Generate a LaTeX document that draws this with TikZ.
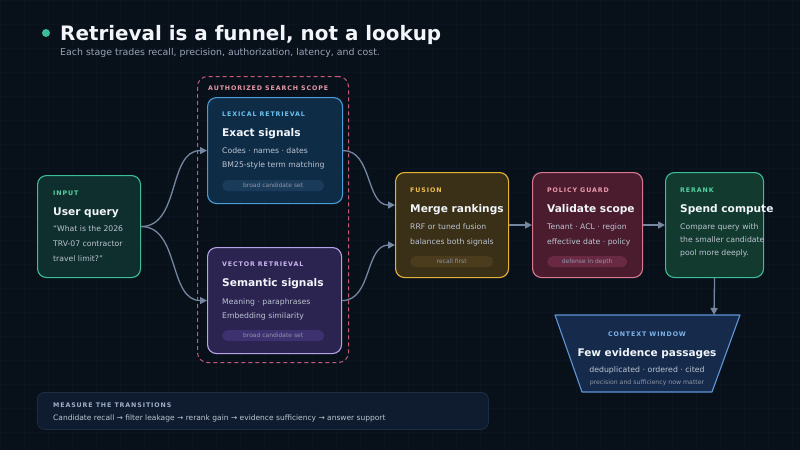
\documentclass[tikz,border=0pt]{standalone}
\usepackage{fontspec}
\setmainfont{DejaVu Sans}
\newfontfamily\lblfont{DejaVu Sans}[LetterSpace=14]
\usetikzlibrary{arrows.meta}
\definecolor{bg}{HTML}{08101A}
\definecolor{gridcol}{HTML}{0B141F}
\definecolor{txtwhite}{HTML}{F2F5FA}
\definecolor{txtbody}{HTML}{BCC5D2}
\definecolor{subcol}{HTML}{98A4B8}
\definecolor{pilltext}{HTML}{8E97A8}
\definecolor{conncol}{HTML}{7586A0}
\definecolor{tealfill}{HTML}{0F2F2E}
\definecolor{tealline}{HTML}{3DBE98}
\definecolor{teallbl}{HTML}{55D3A4}
\definecolor{lexfill}{HTML}{0F2C47}
\definecolor{lexline}{HTML}{4A9BD6}
\definecolor{lexlbl}{HTML}{6EC1F0}
\definecolor{lexpill}{HTML}{1B3B5A}
\definecolor{scopeline}{HTML}{C85A78}
\definecolor{scopelbl}{HTML}{E79AA8}
\definecolor{vecfill}{HTML}{2B2350}
\definecolor{vecline}{HTML}{B7A3E8}
\definecolor{veclbl}{HTML}{C9B8F0}
\definecolor{vecpill}{HTML}{3E3170}
\definecolor{fusfill}{HTML}{3A2F17}
\definecolor{fusline}{HTML}{E5B53A}
\definecolor{fuslbl}{HTML}{F0C050}
\definecolor{fuspill}{HTML}{4A3C1C}
\definecolor{polfill}{HTML}{4A1C2E}
\definecolor{polline}{HTML}{D9788F}
\definecolor{pollbl}{HTML}{F09AAE}
\definecolor{polpill}{HTML}{6A2942}
\definecolor{rrfill}{HTML}{133A2F}
\definecolor{ctxfill}{HTML}{162B4B}
\definecolor{ctxline}{HTML}{5E95D8}
\definecolor{ctxlbl}{HTML}{7EB4EA}
\definecolor{botfill}{HTML}{0F1C2F}
\definecolor{botline}{HTML}{1C2C42}
\definecolor{botlbl}{HTML}{A0B0C8}
\begin{document}
\begin{tikzpicture}[x=1pt,y=-1pt,
  card/.style={draw, rounded corners=9pt, line width=1.1pt, anchor=north west, inner sep=0pt},
  lbl/.style={anchor=base west, inner sep=0pt, font={\lblfont\bfseries\fontsize{6.3}{7}\selectfont}},
  head/.style={anchor=base west, inner sep=0pt, text=txtwhite, font={\bfseries\fontsize{10.6}{13}\selectfont}},
  body/.style={anchor=base west, inner sep=0pt, text=txtbody, font={\fontsize{7.7}{9}\selectfont}},
  pill/.style={rounded corners=5.5pt, anchor=north west, minimum height=11pt, inner sep=0pt, text=pilltext, font={\fontsize{6}{7}\selectfont}},
  conn/.style={draw=conncol, line width=1.3pt, -{Triangle[length=7pt,width=7pt]}}]
\useasboundingbox (0,0) rectangle (800,450);
\fill[bg] (0,0) rectangle (800,450);
\draw[gridcol, line width=0.6pt, step=24pt] (0,0) grid (800,450);

% title
\fill[tealline] (46,33) circle (4);
\node[anchor=base west, inner sep=0pt, text=txtwhite, font={\bfseries\fontsize{19.9}{24}\selectfont}] (title) at (60,40) {Retrieval is a funnel, not a lookup};
\node[anchor=base west, inner sep=0pt, text=subcol, font={\fontsize{9.4}{11}\selectfont}] (subtitle) at (60,55) {Each stage trades recall, precision, authorization, latency, and cost.};

% authorized scope
\node[card, draw=scopeline, dashed, dash pattern=on 4pt off 3pt, line width=1pt, rounded corners=10pt, minimum width=151pt, minimum height=286pt] (scope) at (197,76) {};
\node[lbl, text=scopelbl] (scopelbl) at (208,90) {AUTHORIZED SEARCH SCOPE};

% input
\node[card, draw=tealline, fill=tealfill, minimum width=103pt, minimum height=102pt] (input) at (37,175) {};
\node[lbl, text=teallbl] (inputlbl) at (53,195) {INPUT};
\node[head] (inputhd) at (53,215) {User query};
\node[body] (inb1) at (53,231) {“What is the 2026};
\node[body] (inb2) at (53,246) {TRV-07 contractor};
\node[body] (inb3) at (53,261) {travel limit?”};

% lexical
\node[card, draw=lexline, fill=lexfill, minimum width=135pt, minimum height=106pt] (lex) at (207,97) {};
\node[lbl, text=lexlbl] (lexlbl) at (222,116) {LEXICAL RETRIEVAL};
\node[head] (lexhd) at (222,136) {Exact signals};
\node[body] (lexb1) at (222,153) {Codes · names · dates};
\node[body] (lexb2) at (222,167) {BM25-style term matching};
\node[pill, fill=lexpill, minimum width=102pt] (lexpill) at (222,180) {broad candidate set};

% vector
\node[card, draw=vecline, fill=vecfill, minimum width=134pt, minimum height=106pt] (vec) at (207,247) {};
\node[lbl, text=veclbl] (veclbl) at (222,266) {VECTOR RETRIEVAL};
\node[head] (vechd) at (222,286) {Semantic signals};
\node[body] (vecb1) at (222,304) {Meaning · paraphrases};
\node[body] (vecb2) at (222,318) {Embedding similarity};
\node[pill, fill=vecpill, minimum width=102pt] (vecpill) at (222,330) {broad candidate set};

% fusion
\node[card, draw=fusline, fill=fusfill, minimum width=113pt, minimum height=105pt] (fus) at (395,172) {};
\node[lbl, text=fuslbl] (fuslbl) at (410,192) {FUSION};
\node[head] (fushd) at (410,212) {Merge rankings};
\node[body] (fusb1) at (410,229) {RRF or tuned fusion};
\node[body] (fusb2) at (410,244) {balances both signals};
\node[pill, fill=fuspill, minimum width=83pt] (fuspill) at (410,256) {recall first};

% policy
\node[card, draw=polline, fill=polfill, minimum width=110pt, minimum height=105pt] (pol) at (532,172) {};
\node[lbl, text=pollbl] (pollbl) at (547,192) {POLICY GUARD};
\node[head] (polhd) at (547,212) {Validate scope};
\node[body] (polb1) at (547,229) {Tenant · ACL · region};
\node[body] (polb2) at (547,244) {effective date · policy};
\node[pill, fill=polpill, minimum width=80pt] (polpill) at (547,256) {defense in depth};

% rerank
\node[card, draw=tealline, fill=rrfill, minimum width=98pt, minimum height=105pt] (rr) at (665,172) {};
\node[lbl, text=teallbl] (rrlbl) at (680,192) {RERANK};
\node[head] (rrhd) at (680,212) {Spend compute};
\node[body] (rrb1) at (680,229) {Compare query with};
\node[body] (rrb2) at (680,242) {the smaller candidate};
\node[body] (rrb3) at (680,255) {pool more deeply.};

% context window
\draw[draw=ctxline, fill=ctxfill, line width=1.1pt, line join=round] (555,315) -- (740,315) -- (712,392) -- (582,392) -- cycle;
\coordinate (ctx) at (714,315);
\node[anchor=base, inner sep=0pt, text=ctxlbl, font={\lblfont\bfseries\fontsize{6.3}{7}\selectfont}] (ctxlbl) at (647,336) {CONTEXT WINDOW};
\node[anchor=base, inner sep=0pt, text=txtwhite, font={\bfseries\fontsize{10.5}{13}\selectfont}] (ctxhd) at (647,356) {Few evidence passages};
\node[anchor=base, inner sep=0pt, text=txtbody, font={\fontsize{7.8}{9}\selectfont}] (ctxb1) at (647,372) {deduplicated · ordered · cited};
\node[anchor=base, inner sep=0pt, text=pilltext, font={\fontsize{6.2}{7}\selectfont}] (ctxb2) at (647,384) {precision and sufficiency now matter};

% bottom
\node[card, draw=botline, fill=botfill, line width=0.8pt, rounded corners=7pt, minimum width=451pt, minimum height=37pt] (bot) at (37,392) {};
\node[lbl, text=botlbl] (botlbl) at (53,407) {MEASURE THE TRANSITIONS};
\node[anchor=base west, inner sep=0pt, text=txtbody, font={\fontsize{7.5}{9}\selectfont}] (bottxt) at (53,420) {Candidate recall → filter leakage → rerank gain → evidence sufficiency → answer support};

% connectors
\draw[conn] (input.east) to[out=0,in=180] (lex.west);
\draw[conn] (input.east) to[out=0,in=180] (vec.west);
\draw[conn] (lex.east) to[out=0,in=180] ([yshift=20pt]fus.west);
\draw[conn] (vec.east) to[out=0,in=180] ([yshift=-20pt]fus.west);
\draw[conn] (fus.east) -- (pol.west);
\draw[conn] (pol.east) -- (rr.west);
\draw[conn] (rr.south) -- (ctx);
\end{tikzpicture}
\end{document}
